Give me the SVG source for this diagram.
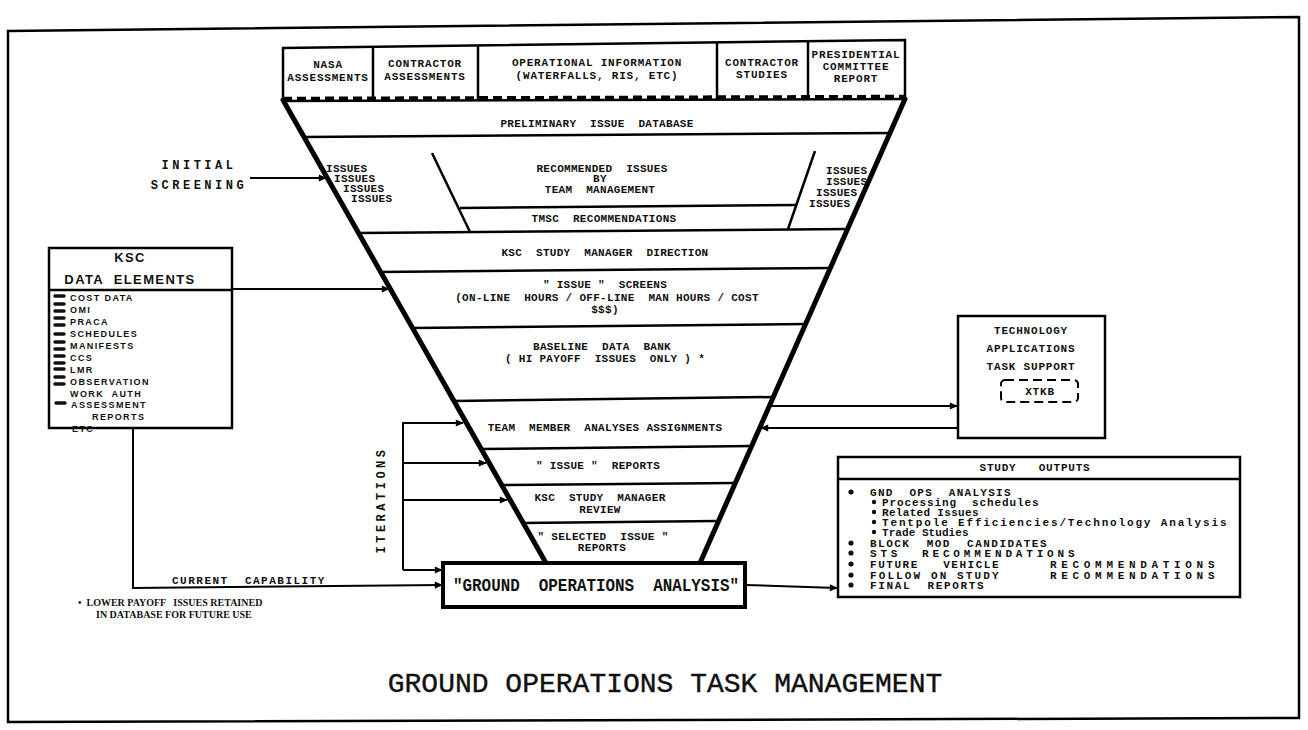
<svg xmlns="http://www.w3.org/2000/svg" width="1308" height="730" viewBox="0 0 1308 730" xml:space="preserve">
  <style>
    .ln { stroke: #000; fill: none; stroke-width: 2.5; }
    .thin { stroke: #000; fill: none; stroke-width: 2; }
    .edge { stroke: #000; fill: none; stroke-width: 5; stroke-linecap: round; }
    .box { stroke: #000; fill: #fff; stroke-width: 2.5; }
    .t { font-family: "Liberation Mono", "DejaVu Sans Mono", monospace; font-weight: bold; font-size: 11px; letter-spacing: 0.3px; fill: #111; white-space: pre; }
    .tb { letter-spacing: 0.8px; }
    .so { letter-spacing: 1.5px; }
    .c { text-anchor: middle; }
    .s { font-family: "Liberation Sans", Arial, sans-serif; font-weight: bold; font-size: 9px; letter-spacing: 1.4px; fill: #111; white-space: pre; }
    .h { font-family: "Liberation Sans", Arial, sans-serif; font-weight: bold; font-size: 13px; letter-spacing: 1.4px; fill: #111; white-space: pre; text-anchor: middle; }
    .lab { font-family: "Liberation Mono", monospace; font-weight: bold; font-size: 12px; letter-spacing: 3.5px; fill: #111; white-space: pre; text-anchor: middle; }
    .goa { font-family: "Liberation Mono", monospace; font-weight: bold; font-size: 18px; fill: #111; white-space: pre; }
    .title { font-family: "Liberation Mono", "Courier New", monospace; font-size: 28px; fill: #111; stroke: #111; stroke-width: 0.4; white-space: pre; text-anchor: middle; }
    .note { font-family: "Liberation Serif", serif; font-weight: bold; font-size: 10px; fill: #111; white-space: pre; }
    .dash { stroke: #111; stroke-width: 3.5; stroke-linecap: round; }
  </style>
  <defs>
    <marker id="ah" viewBox="0 0 10 10" refX="9" refY="5" markerWidth="10" markerHeight="8" markerUnits="userSpaceOnUse" orient="auto">
      <path d="M0,0.5 L10,5 L0,9.5 z" fill="#000"/>
    </marker>
  </defs>

  <rect x="0" y="0" width="1308" height="730" fill="#fff"/>

  <!-- page frame -->
  <polygon class="ln" points="8,31 1299,17 1299,718 8,722"/>

  <!-- source boxes across the top -->
  <g id="sources">
    <polyline class="ln" points="283,101 283,48 905,40 905,99"/>
    <line class="ln" x1="373" y1="47" x2="373" y2="100"/>
    <line class="ln" x1="478" y1="45.5" x2="478" y2="100"/>
    <line class="ln" x1="717" y1="42.5" x2="717" y2="99"/>
    <line class="ln" x1="808" y1="41" x2="808" y2="99"/>
    <line class="ln" x1="283" y1="101" x2="905" y2="99"/>
    <line x1="283" y1="98.5" x2="905" y2="96.5" stroke="#000" stroke-width="3.5" stroke-dasharray="9 5"/>
    <text class="t tb c" x="328" y="68">NASA</text>
    <text class="t tb c" x="328" y="81">ASSESSMENTS</text>
    <text class="t tb c" x="425" y="67">CONTRACTOR</text>
    <text class="t tb c" x="425" y="80">ASSESSMENTS</text>
    <text class="t tb c" x="597" y="66">OPERATIONAL INFORMATION</text>
    <text class="t tb c" x="597" y="79">(WATERFALLS, RIS, ETC)</text>
    <text class="t tb c" x="762" y="66">CONTRACTOR</text>
    <text class="t tb c" x="762" y="78">STUDIES</text>
    <text class="t tb c" x="856" y="58">PRESIDENTIAL</text>
    <text class="t tb c" x="856" y="70">COMMITTEE</text>
    <text class="t tb c" x="856" y="82">REPORT</text>
  </g>

  <!-- the screening funnel -->
  <g id="funnel">
    <line class="ln" x1="304" y1="137" x2="890" y2="133"/>
    <line class="ln" x1="358" y1="233" x2="848" y2="229"/>
    <line class="ln" x1="380" y1="272" x2="831" y2="268"/>
    <line class="ln" x1="412" y1="328" x2="806" y2="324"/>
    <line class="ln" x1="453" y1="401" x2="773" y2="397"/>
    <line class="ln" x1="480" y1="449" x2="752" y2="446"/>
    <line class="ln" x1="501" y1="485" x2="735" y2="483"/>
    <line class="ln" x1="522" y1="523" x2="718" y2="521"/>
    <!-- inner trapezoid of recommended issues -->
    <line class="ln" x1="432" y1="153" x2="470" y2="232"/>
    <line class="ln" x1="815" y1="151" x2="788" y2="229"/>
    <line class="ln" x1="460" y1="208" x2="797" y2="205"/>
    <line class="edge" x1="283" y1="100" x2="546" y2="563"/>
    <line class="edge" x1="905" y1="99" x2="700" y2="563"/>

    <text class="t c" x="597" y="127">PRELIMINARY  ISSUE  DATABASE</text>
    <text class="t c" x="602" y="172">RECOMMENDED  ISSUES</text>
    <text class="t c" x="600" y="182">BY</text>
    <text class="t c" x="600" y="193">TEAM  MANAGEMENT</text>
    <text class="t c" x="604" y="222">TMSC  RECOMMENDATIONS</text>
    <text class="t" x="326" y="172">ISSUES</text>
    <text class="t" x="334" y="182">ISSUES</text>
    <text class="t" x="343" y="192">ISSUES</text>
    <text class="t" x="351" y="202">ISSUES</text>
    <text class="t" x="826" y="174">ISSUES</text>
    <text class="t" x="826" y="185">ISSUES</text>
    <text class="t" x="816" y="196">ISSUES</text>
    <text class="t" x="809" y="207">ISSUES</text>
    <text class="t c" x="605" y="256">KSC  STUDY  MANAGER  DIRECTION</text>
    <text class="t c" x="605" y="288">" ISSUE "  SCREENS</text>
    <text class="t c" x="607" y="301">(ON-LINE  HOURS / OFF-LINE  MAN HOURS / COST</text>
    <text class="t c" x="605" y="313">$$$)</text>
    <text class="t c" x="602" y="350">BASELINE  DATA  BANK</text>
    <text class="t c" x="605" y="362">( HI PAYOFF  ISSUES  ONLY ) *</text>
    <text class="t c" x="605" y="431">TEAM  MEMBER  ANALYSES ASSIGNMENTS</text>
    <text class="t c" x="598" y="469">" ISSUE "  REPORTS</text>
    <text class="t c" x="600" y="501">KSC  STUDY  MANAGER</text>
    <text class="t c" x="600" y="513">REVIEW</text>
    <text class="t c" x="603" y="540">" SELECTED  ISSUE "</text>
    <text class="t c" x="602" y="551">REPORTS</text>
  </g>

  <!-- KSC data elements -->
  <g id="ksc-data">
    <rect class="box" x="49" y="248" width="183" height="180"/>
    <line class="ln" x1="49" y1="290" x2="232" y2="290"/>
    <text class="h" x="130" y="262">KSC</text>
    <text class="h" x="130" y="284">DATA  ELEMENTS</text>
    <line class="dash" x1="55" y1="296" x2="64" y2="296"/>
    <line class="dash" x1="55" y1="304" x2="64" y2="304"/>
    <line class="dash" x1="55" y1="311" x2="64" y2="311"/>
    <line class="dash" x1="55" y1="318" x2="64" y2="318"/>
    <line class="dash" x1="55" y1="325" x2="64" y2="325"/>
    <line class="dash" x1="55" y1="334" x2="64" y2="334"/>
    <line class="dash" x1="55" y1="342" x2="64" y2="342"/>
    <line class="dash" x1="55" y1="349" x2="64" y2="349"/>
    <line class="dash" x1="55" y1="356" x2="64" y2="356"/>
    <line class="dash" x1="55" y1="363" x2="64" y2="363"/>
    <line class="dash" x1="55" y1="369" x2="64" y2="369"/>
    <line class="dash" x1="55" y1="377" x2="64" y2="377"/>
    <line class="dash" x1="55" y1="384" x2="64" y2="384"/>
    <line class="dash" x1="56" y1="403" x2="65" y2="403"/>
    <text class="s" x="70" y="301">COST DATA</text>
    <text class="s" x="70" y="313">OMI</text>
    <text class="s" x="70" y="325">PRACA</text>
    <text class="s" x="70" y="337">SCHEDULES</text>
    <text class="s" x="70" y="349">MANIFESTS</text>
    <text class="s" x="70" y="361">CCS</text>
    <text class="s" x="70" y="373">LMR</text>
    <text class="s" x="70" y="385">OBSERVATION</text>
    <text class="s" x="70" y="397">WORK  AUTH</text>
    <text class="s" x="71" y="408">ASSESSMENT</text>
    <text class="s" x="92" y="420">REPORTS</text>
    <text class="s" x="72" y="432">ETC</text>
  </g>

  <!-- technology applications -->
  <g id="tech-support">
    <rect class="box" x="958" y="316" width="147" height="122"/>
    <text class="t tb c" x="1031" y="334">TECHNOLOGY</text>
    <text class="t tb c" x="1031" y="352">APPLICATIONS</text>
    <text class="t tb c" x="1031" y="370">TASK SUPPORT</text>
    <rect x="1001" y="380" width="77" height="22" rx="4" fill="none" stroke="#000" stroke-width="2" stroke-dasharray="9 5"/>
    <text class="t tb c" x="1040" y="395">XTKB</text>
  </g>

  <!-- analysis box at the funnel outlet -->
  <g id="ground-ops">
    <rect x="443" y="563" width="302" height="44" fill="#fff" stroke="#000" stroke-width="4"/>
    <text class="goa" x="453" y="591" textLength="286" lengthAdjust="spacingAndGlyphs">"GROUND  OPERATIONS  ANALYSIS"</text>
  </g>

  <!-- study outputs -->
  <g id="study-outputs">
    <rect class="box" x="838" y="457" width="402" height="140"/>
    <line class="ln" x1="838" y1="479" x2="1240" y2="479"/>
    <text class="t tb c" x="1035" y="471">STUDY   OUTPUTS</text>
    <g fill="#111">
      <circle cx="851" cy="492" r="2.6"/>
      <circle cx="874" cy="502" r="2.2"/>
      <circle cx="874" cy="512" r="2.2"/>
      <circle cx="874" cy="522" r="2.2"/>
      <circle cx="874" cy="532" r="2.2"/>
      <circle cx="851" cy="543" r="2.6"/>
      <circle cx="851" cy="553" r="2.6"/>
      <circle cx="851" cy="564" r="2.6"/>
      <circle cx="851" cy="575" r="2.6"/>
      <circle cx="851" cy="585" r="2.6"/>
    </g>
    <text class="t so" x="870" y="496" textLength="142" lengthAdjust="spacing">GND  OPS  ANALYSIS</text>
    <text class="t so" x="882" y="506" textLength="158" lengthAdjust="spacing">Processing  schedules</text>
    <text class="t so" x="882" y="516" textLength="98" lengthAdjust="spacing">Related Issues</text>
    <text class="t so" x="882" y="526" textLength="346" lengthAdjust="spacing">Tentpole Efficiencies/Technology Analysis</text>
    <text class="t so" x="882" y="536" textLength="88" lengthAdjust="spacing">Trade Studies</text>
    <text class="t so" x="870" y="547" textLength="178" lengthAdjust="spacing">BLOCK  MOD  CANDIDATES</text>
    <text class="t so" x="870" y="557" textLength="206" lengthAdjust="spacing">STS  RECOMMENDATIONS</text>
    <text class="t so" x="870" y="568" textLength="130" lengthAdjust="spacing">FUTURE   VEHICLE</text>
    <text class="t so" x="1050" y="568" textLength="166" lengthAdjust="spacing">RECOMMENDATIONS</text>
    <text class="t so" x="870" y="579" textLength="130" lengthAdjust="spacing">FOLLOW ON STUDY</text>
    <text class="t so" x="1050" y="579" textLength="166" lengthAdjust="spacing">RECOMMENDATIONS</text>
    <text class="t so" x="870" y="589" textLength="115" lengthAdjust="spacing">FINAL  REPORTS</text>
  </g>

  <!-- side labels -->
  <g id="labels">
    <text class="lab" x="199" y="169">INITIAL</text>
    <text class="lab" x="199" y="189">SCREENING</text>
    <text class="lab" transform="translate(385 500) rotate(-90)">ITERATIONS</text>
    <text class="t so" x="172" y="584">CURRENT  CAPABILITY</text>
  </g>

  <!-- connectors -->
  <g id="connectors" marker-end="url(#ah)">
    <line class="thin" x1="250" y1="178" x2="326" y2="178"/>
    <line class="thin" x1="232" y1="289" x2="389" y2="289"/>
    <polyline class="thin" points="133,428 133,588 442,585"/>
    <polyline class="thin" points="403,570 403,423 463,423"/>
    <line class="thin" x1="403" y1="463" x2="486" y2="463"/>
    <line class="thin" x1="403" y1="500" x2="507" y2="500"/>
    <line class="thin" x1="403" y1="570" x2="442" y2="570"/>
    <line class="thin" x1="770" y1="406" x2="957" y2="406"/>
    <line class="thin" x1="958" y1="428" x2="761" y2="428"/>
    <line class="thin" x1="745" y1="585" x2="837" y2="588"/>
  </g>

  <!-- footnote and title -->
  <text class="note" x="78" y="606">•  LOWER PAYOFF   ISSUES RETAINED</text>
  <text class="note" x="96" y="618">IN DATABASE FOR FUTURE USE</text>
  <text class="title" x="665" y="692">GROUND OPERATIONS TASK MANAGEMENT</text>
</svg>
